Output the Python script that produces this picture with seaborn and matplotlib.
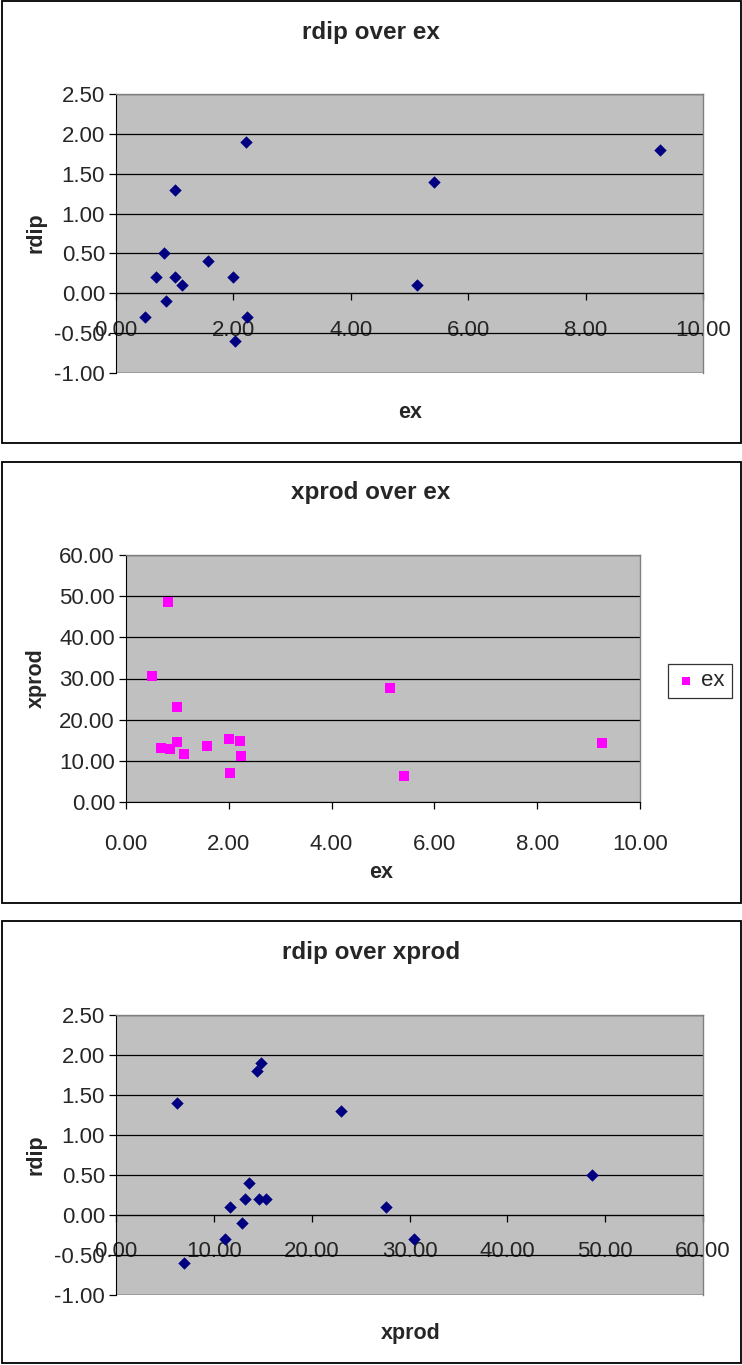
"""
Three Excel-style scatter panels: rdip / xprod / ex
"""

import numpy as np
import pandas as pd
import matplotlib
matplotlib.use("Agg")
import matplotlib.pyplot as plt
from matplotlib.patches import Rectangle
from matplotlib.ticker import FormatStrFormatter, MultipleLocator
import seaborn as sns

ex = [0.50, 0.68, 0.82, 0.85, 1.00, 1.00, 1.12, 1.57, 2.00, 2.03, 2.21, 2.23, 5.13, 5.41, 9.27]
xprod = [30.5, 13.2, 48.7, 12.9, 23.0, 14.6, 11.7, 13.6, 15.3, 7.0, 14.8, 11.1, 27.6, 6.2, 14.4]
rdip = [-0.3, 0.2, 0.5, -0.1, 1.3, 0.2, 0.1, 0.4, 0.2, -0.6, 1.9, -0.3, 0.1, 1.4, 1.8]

titles = ["rdip over ex", "xprod over ex", "rdip over xprod"]
legend_label = "ex"

df = pd.DataFrame({"ex": ex, "xprod": xprod, "rdip": rdip})

W, H = 742, 1365
sns.set_style("white")
plt.rcParams["font.family"] = ["Liberation Sans", "DejaVu Sans"]

fig = plt.figure(figsize=(W / 100, H / 100), dpi=100)

NAVY = "#000080"
MAGENTA = "#FF00FF"
PLOT_BG = "#C0C0C0"
TICK_FS = 16
TITLE_FS = 17.5
LABEL_FS = 15.5


def px_rect(left, top, right, bottom):
    return [left / W, 1 - bottom / H, (right - left) / W, (bottom - top) / H]


def box(top, bottom):
    fig.patches.append(Rectangle((1.5 / W, 1 - bottom / H), (W - 3) / W, (bottom - top) / H,
                                 transform=fig.transFigure, fill=False,
                                 edgecolor="black", linewidth=1.3))


def style_axes(ax, xlim, xstep, ylim, ystep, cross_zero, xpad):
    ax.set_facecolor(PLOT_BG)
    ax.set_xlim(*xlim)
    ax.set_ylim(*ylim)
    ax.xaxis.set_major_locator(MultipleLocator(xstep))
    ax.yaxis.set_major_locator(MultipleLocator(ystep))
    ax.xaxis.set_major_formatter(FormatStrFormatter("%.2f"))
    ax.yaxis.set_major_formatter(FormatStrFormatter("%.2f"))
    ax.grid(axis="y", color="black", linewidth=0.9)
    ax.grid(axis="x", visible=False)
    ax.set_axisbelow(True)
    for side in ["top", "right"]:
        ax.spines[side].set_color("#808080")
        ax.spines[side].set_linewidth(1.0)
    ax.spines["left"].set_color("black")
    ax.spines["bottom"].set_color("black")
    if cross_zero:
        ax.spines["bottom"].set_position(("data", 0))
        ax.axhline(ylim[0], color="#808080", linewidth=1.0, zorder=0.5)
    ax.tick_params(axis="both", direction="out", length=5, width=0.9,
                   color="black", labelsize=TICK_FS, left=True, bottom=True)
    ax.tick_params(axis="x", pad=xpad)
    ax.tick_params(axis="y", pad=3)
    ax.set_xlabel("")
    ax.set_ylabel("")


# Panel 1: rdip over ex
box(1.5, 443)
ax1 = fig.add_axes(px_rect(116, 94, 703, 373))
sns.scatterplot(data=df, x="ex", y="rdip", ax=ax1, marker="D", s=40,
                color=NAVY, linewidth=0, zorder=3, clip_on=False)
style_axes(ax1, (0, 10), 2, (-1, 2.5), 0.5, True, 14)
fig.text(371 / W, 1 - 32 / H, titles[0], ha="center", va="center",
         fontsize=TITLE_FS, fontweight="bold")
fig.text(410 / W, 1 - 412 / H, "ex", ha="center", va="center",
         fontsize=LABEL_FS, fontweight="bold")
fig.text(36 / W, 1 - 233 / H, "rdip", ha="center", va="center", rotation=90,
         fontsize=LABEL_FS, fontweight="bold")

# Panel 2: xprod over ex
box(462, 903)
ax2 = fig.add_axes(px_rect(126, 555, 640, 802))
sns.scatterplot(data=df, x="ex", y="xprod", ax=ax2, marker="s", s=52,
                color=MAGENTA, linewidth=0, zorder=3, label=legend_label)
style_axes(ax2, (0, 10), 2, (0, 60), 10, False, 18)
fig.text(371 / W, 1 - 492 / H, titles[1], ha="center", va="center",
         fontsize=TITLE_FS, fontweight="bold")
fig.text(381 / W, 1 - 872 / H, "ex", ha="center", va="center",
         fontsize=LABEL_FS, fontweight="bold")
fig.text(36 / W, 1 - 678 / H, "xprod", ha="center", va="center", rotation=90,
         fontsize=LABEL_FS, fontweight="bold")
leg = ax2.legend(loc="center left", bbox_to_anchor=(657 / W, 1 - 681 / H),
                 bbox_transform=fig.transFigure, frameon=True, fancybox=False,
                 edgecolor="black", fontsize=TICK_FS, handletextpad=0.2,
                 handlelength=1.0, borderpad=0.3, markerscale=0.85)
leg.get_frame().set_linewidth(0.9)

# Panel 3: rdip over xprod
box(921, 1363)
ax3 = fig.add_axes(px_rect(116, 1015, 703, 1295))
sns.scatterplot(data=df, x="xprod", y="rdip", ax=ax3, marker="D", s=40,
                color=NAVY, linewidth=0, zorder=3, clip_on=False)
style_axes(ax3, (0, 60), 10, (-1, 2.5), 0.5, True, 14)
fig.text(371 / W, 1 - 953 / H, titles[2], ha="center", va="center",
         fontsize=TITLE_FS, fontweight="bold")
fig.text(411 / W, 1 - 1333 / H, "xprod", ha="center", va="center",
         fontsize=LABEL_FS, fontweight="bold")
fig.text(36 / W, 1 - 1155 / H, "rdip", ha="center", va="center", rotation=90,
         fontsize=LABEL_FS, fontweight="bold")

fig.savefig("out.png", dpi=100)
